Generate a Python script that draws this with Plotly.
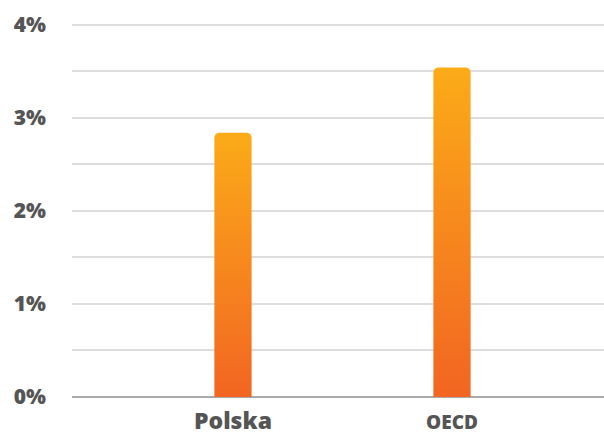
import plotly.graph_objects as go

categories = ["Polska", "OECD"]
values = [2.84, 3.54]
ytick_vals = [0, 0.5, 1, 1.5, 2, 2.5, 3, 3.5, 4]
ytick_text = ["0%", "", "1%", "", "2%", "", "3%", "", "4%"]
xtick_text = ['<span style="font-size:23px">Polska</span>', '<span style="font-size:19px">OECD</span>']

bar_w = 0.17
rx, ry = 0.02, 0.045
fig = go.Figure()
for i, v in enumerate(values):
    l, r = i - bar_w / 2, i + bar_w / 2
    xs = [l, l, l + rx * 0.3, l + rx, r - rx, r - rx * 0.3, r, r, l]
    ys = [0, v - ry, v - ry * 0.3, v, v, v - ry * 0.3, v - ry, 0, 0]
    fig.add_trace(go.Scatter(
        x=xs, y=ys, mode="lines", fill="toself",
        line=dict(width=0, color="rgba(0,0,0,0)"),
        fillgradient=dict(type="vertical", start=0, stop=v,
                          colorscale=[[0, "#F26522"], [1, "#FBAB18"]]),
        hoverinfo="skip", showlegend=False,
    ))

fig.update_layout(
    width=604, height=437,
    margin=dict(l=72, r=0, t=22, b=40, autoexpand=False),
    paper_bgcolor="white", plot_bgcolor="white",
    font=dict(family="Open Sans", color="#555555"),
    showlegend=False,
)
fig.update_xaxes(
    range=[-0.735, 1.694], tickvals=[0, 1], ticktext=xtick_text,
    showgrid=False, zeroline=False, showline=False, automargin=False,
    tickfont=dict(family="Open Sans", size=20, color="#555555", weight=800),
    ticklabelstandoff=11,
)
fig.update_yaxes(
    range=[0, 4.03], tickvals=ytick_vals, ticktext=ytick_text,
    showgrid=True, gridcolor="#dddddd", gridwidth=2, automargin=False,
    zeroline=True, zerolinecolor="#aaaaaa", zerolinewidth=2,
    tickfont=dict(family="Open Sans", size=21, color="#555555", weight=800),
    ticklabelstandoff=25,
)
fig.write_html("out.html", config={"displayModeBar": False},
               post_script="document.body.style.margin='0';document.body.style.overflow='hidden';")
